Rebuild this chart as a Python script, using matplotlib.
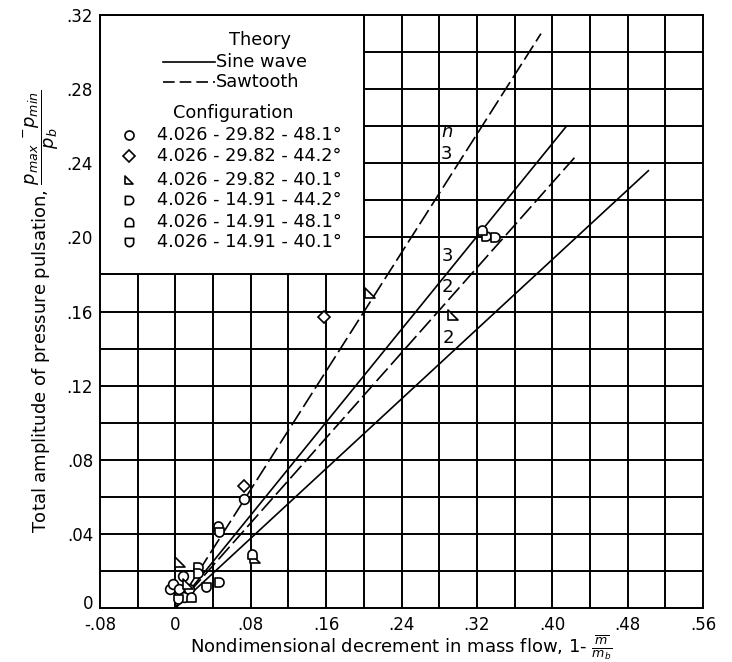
import numpy as np
import matplotlib
matplotlib.use("Agg")
import matplotlib.pyplot as plt
import matplotlib.transforms as mtrans
from matplotlib.path import Path
from matplotlib.patches import Rectangle

# ---------------- data ----------------
x_ticks = [-0.08, 0.0, 0.08, 0.16, 0.24, 0.32, 0.40, 0.48, 0.56]
x_tick_labels = ['-.08', '0', '.08', '.16', '.24', '.32', '.40', '.48', '.56']
y_ticks = [0.0, 0.04, 0.08, 0.12, 0.16, 0.20, 0.24, 0.28, 0.32]
y_tick_labels = ['0', '.04', '.08', '.12', '.16', '.20', '.24', '.28', '.32']

# theory lines: from origin to end point
sine3_x = [0.0, 0.415]
sine3_y = [0.0, 0.260]
sine2_x = [0.0, 0.502]
sine2_y = [0.0, 0.236]
saw3_x = [0.0, 0.388]
saw3_y = [0.0, 0.310]
saw2_x = [0.0, 0.427]
saw2_y = [0.0, 0.245]

# experimental points per configuration
cfg_labels = ['4.026 - 29.82 - 48.1°', '4.026 - 29.82 - 44.2°', '4.026 - 29.82 - 40.1°',
              '4.026 - 14.91 - 44.2°', '4.026 - 14.91 - 48.1°', '4.026 - 14.91 - 40.1°']
c1_x = [-0.006, -0.002, 0.008, 0.004, 0.009, 0.014, 0.073]
c1_y = [0.010, 0.013, 0.017, 0.010, 0.006, 0.010, 0.059]
c2_x = [0.073, 0.158]
c2_y = [0.066, 0.157]
c3_x = [0.005, 0.013, 0.085, 0.207, 0.295]
c3_y = [0.025, 0.013, 0.027, 0.170, 0.158]
c4_x = [0.024, 0.024, 0.046, 0.330, 0.339]
c4_y = [0.022, 0.019, 0.014, 0.201, 0.200]
c5_x = [0.045, 0.081, 0.017, 0.325]
c5_y = [0.044, 0.029, 0.006, 0.204]
c6_x = [0.033, 0.046, 0.003]
c6_y = [0.0115, 0.041, 0.005]

# ---------------- markers ----------------
def arc(t1, t2):
    t = np.radians(np.linspace(t1, t2, 30))
    return np.column_stack([np.cos(t), np.sin(t)])

def closed(pts):
    pts = np.vstack([pts, pts[0]])
    return Path(pts, closed=True)

m_D = closed(np.vstack([[(-1, -1), (0, -1)], arc(-90, 90), [(-1, 1)]]))   # flat left
m_dome = closed(np.vstack([[(-1, -1), (1, -1), (1, 0)], arc(0, 180)]))    # flat bottom
m_cup = closed(np.vstack([[(1, 1), (-1, 1), (-1, 0)], arc(180, 360)]))    # flat top
m_tri = Path([(-1, 1), (-1, -1), (1, -1), (-1, 1)], closed=True)

markers = ['o', 'D', m_tri, m_D, m_dome, m_cup]
msizes = [7, 6.5, 6.5, 6.5, 6.5, 6.5]
series = [(c1_x, c1_y), (c2_x, c2_y), (c3_x, c3_y), (c4_x, c4_y), (c5_x, c5_y), (c6_x, c6_y)]

# ---------------- figure ----------------
fig = plt.figure(figsize=(7.32, 6.62), dpi=100)
ax = fig.add_axes([0.1366, 0.0816, 0.8238, 0.8956])
ax.set_xlim(-0.08, 0.56)
ax.set_ylim(0, 0.32)

ax.set_xticks(x_ticks)
ax.set_xticklabels(x_tick_labels, fontsize=12)
ax.set_yticks(y_ticks)
ax.set_yticklabels(y_tick_labels, fontsize=12)
ax.tick_params(axis='x', length=0, pad=6)
ax.tick_params(axis='y', length=0, pad=5)
# lift the y "0" label a little so it clears the "-.08" label
zero_lab = ax.get_yticklabels()[0]
zero_lab.set_transform(zero_lab.get_transform() +
                       mtrans.ScaledTranslation(0, 4 / 72, fig.dpi_scale_trans))

for gx in np.arange(-0.04, 0.53, 0.04):
    ax.axvline(gx, color='black', lw=1.4, zorder=0.5)
for gy in np.arange(0.02, 0.319, 0.02):
    ax.axhline(gy, color='black', lw=1.4, zorder=0.5)
for s in ax.spines.values():
    s.set_linewidth(1.4)

# legend box covering grid
ax.add_patch(Rectangle((0, 0.5625), 0.4375, 0.4375, transform=ax.transAxes,
                       facecolor='white', edgecolor='black', lw=1.4, zorder=1))

# theory lines
dash = (0, (10, 3))
ax.plot(sine3_x, sine3_y, color='black', lw=1.2, zorder=2)
ax.plot(sine2_x, sine2_y, color='black', lw=1.2, zorder=2)
ax.plot(saw3_x, saw3_y, color='black', lw=1.2, ls=dash, zorder=2)
ax.plot(saw2_x, saw2_y, color='black', lw=1.2, ls=dash, zorder=2)

# points
for (sx, sy), mk, ms in zip(series, markers, msizes):
    ax.plot(sx, sy, ls='none', marker=mk, ms=ms, mfc='white', mec='black', mew=1.2, zorder=3)

# curve labels
ax.text(0.288, 0.257, 'n', fontsize=13, style='italic', ha='center', va='center', zorder=4)
ax.text(0.288, 0.245, '3', fontsize=13, ha='center', va='center', zorder=4)
ax.text(0.289, 0.190, '3', fontsize=13, ha='center', va='center', zorder=4)
ax.text(0.289, 0.173, '2', fontsize=13, ha='center', va='center', zorder=4)
ax.text(0.290, 0.1455, '2', fontsize=13, ha='center', va='center', zorder=4)

# legend contents
T = ax.transAxes
lfs = 12.8
ax.text(0.265, 0.958, 'Theory', transform=T, fontsize=lfs, ha='center', va='center', zorder=4)
ax.plot([0.104, 0.190], [0.921, 0.921], transform=T, color='black', lw=1.2, zorder=4)
ax.text(0.192, 0.921, 'Sine wave', transform=T, fontsize=lfs, ha='left', va='center', zorder=4)
ax.plot([0.104, 0.190], [0.887, 0.887], transform=T, color='black', lw=1.2, ls=(0, (7, 3)), zorder=4)
ax.text(0.192, 0.887, 'Sawtooth', transform=T, fontsize=lfs, ha='left', va='center', zorder=4)
ax.text(0.221, 0.835, 'Configuration', transform=T, fontsize=lfs, ha='center', va='center', zorder=4)
row_y = [0.798, 0.762, 0.722, 0.688, 0.651, 0.617]
for ry, mk, ms, lab in zip(row_y, markers, msizes, cfg_labels):
    ax.plot([0.048], [ry], transform=T, ls='none', marker=mk, ms=ms - 0.5, mfc='white',
            mec='black', mew=1.2, zorder=4)
    ax.text(0.0945, ry, lab, transform=T, fontsize=lfs, ha='left', va='center', zorder=4)

ax.set_xlabel(r'Nondimensional decrement in mass flow, 1- $\frac{\overline{m}}{m_b}$',
              fontsize=13, labelpad=-1)
ax.set_ylabel(r'Total amplitude of pressure pulsation, $\dfrac{p_{max}\ ^{-}p_{min}}{p_b}$',
              fontsize=13, labelpad=4)

fig.savefig('out.png', dpi=100)
